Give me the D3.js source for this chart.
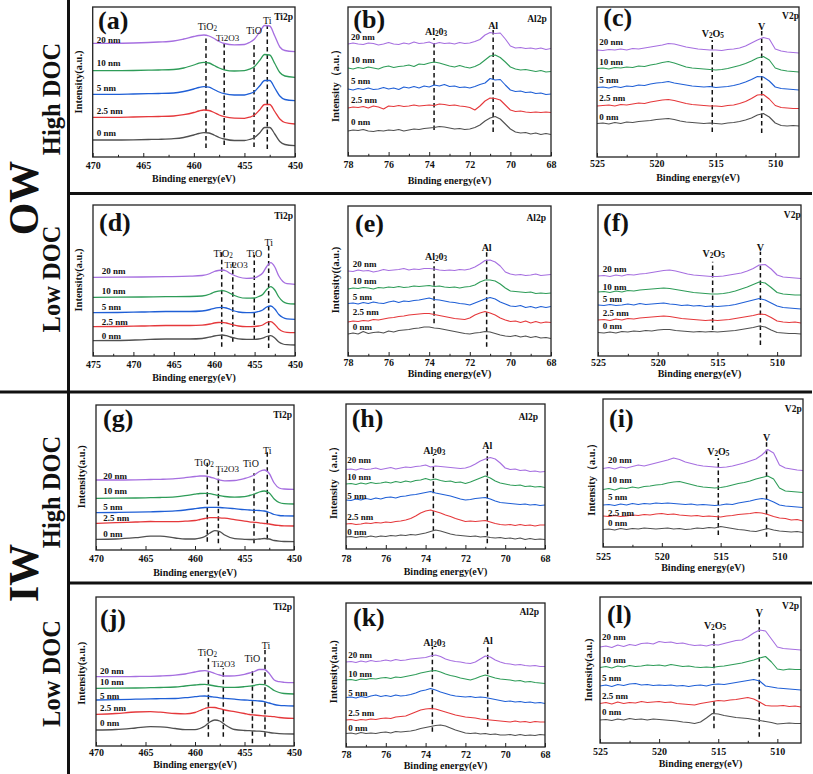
<!DOCTYPE html>
<html><head><meta charset="utf-8">
<script src="https://cdn.jsdelivr.net/npm/d3@7/dist/d3.min.js"></script>
<style>
body{margin:0;background:#fff}
svg{display:block}
text{font-family:"Liberation Serif","Times New Roman",serif}
</style></head>
<body><svg id="c" width="813" height="774"></svg>
<script>
// ---------------- data ----------------
const SERIES = ["0 nm","2.5 nm","5 nm","10 nm","20 nm"];
const COLORS = ["#505050","#e5383b","#1f5fd6","#2e9c58","#a66fe0"];

const X_TI   = [470,468,466,464.5,463.5,462,461,460,459.5,459,458.5,458,457.5,457,456,455,454.5,454,453.5,453,452.5,452,451.5,451,450];
const X_TI_D = [475,472,469,466,463,461.5,460.5,460,459.5,459,458.5,458,457.5,457,456,455,454.5,454,453.5,453,452.5,452,451.5,451,450];
const X_AL = [78,77.75,77.5,77.25,77,76.75,76.5,76.25,76,75.75,75.5,75.25,75,74.75,74.5,74.25,74,73.75,73.5,73.25,73,72.75,72.5,72.25,72,71.75,71.5,71.25,71,70.75,70.5,70.25,70,69.75,69.5,69.25,69,68.75,68.5,68.25,68];
const X_V = [525,524.5,524,523.5,523,522.5,522,521.5,521,520.5,520,519.5,519,518.5,518,517.5,517,516.5,516,515.5,515,514.5,514,513.5,513,512.5,512,511.5,511,510.5,510,509.5,509,508.5,508];

const TICKS_TI = [470,465,460,455,450], MINOR_TI = [467.5,462.5,457.5,452.5];
const TICKS_TI_D = [475,470,465,460,455,450], MINOR_TI_D = [472.5,467.5,462.5,457.5,452.5];
const TICKS_AL = [78,76,74,72,70,68], MINOR_AL = [77,75,73,71,69];
const TICKS_V = [525,520,515,510], MINOR_V = [522.5,517.5,512.5];

// (a) Ti2p, OW high DOC
const A0  = [17,17,17.2,17.5,17.7,18.3,19.5,22,23.5,24.3,24,22,19.5,18,16.5,16.5,17.5,19.5,24,29.5,29.5,23,15.5,12.5,11.3];
const A25 = [39.7,39.7,40,40.3,40.5,41,42.3,44.5,46,47,46.5,44.5,42,40.3,38.8,38.7,39.8,42,47,52.5,52.5,45.5,38,34.5,33];
const A5  = [62.7,62.7,63,63.3,63.5,64,65.5,68,69.5,70.3,69.8,67.5,65,63.3,62,62,63.3,65.5,71,76.5,76.5,69,61,57.5,56.3];
const A10 = [86.3,86.3,86.5,86.8,87,87.5,89,92,93.8,94.7,94,91.5,89,87.2,86,86.3,87.8,90.5,96.5,102.5,102,93.5,84.5,81,79.7];
const A20 = [113.7,113.7,114,114.5,115,116,118,120.5,121.5,122,121,118.5,115.5,113.5,112.2,112.5,114.5,118,125,131.5,131,121,110,106.5,105.3];
// (b) Al2p
const B0  = [25,26,25.5,26.5,25,24.5,25.5,25,26,25.5,26.5,25,26,27,26.5,27.5,28,28.5,29.5,29,28,27,27.5,26.5,27,28.5,31,35,38,39.5,37,32,27,24,23,23.5,22,23,21.5,22.5,21.5];
const B25 = [48,49,48.5,49.5,48,50,49,47,50,49.5,50.5,49.5,50,51,50,50.5,51,50.5,52,51.5,50.5,51,50,49.5,48.5,46,50,55,58,57.5,56,51,46,44.5,45,44,43.5,44,43.5,44,43.5];
const B5  = [67,66,67.5,66.5,68,66.5,67,68.5,67,68,66.5,69,68,69.5,68,70,69,71,70,71.5,69.5,70,68.5,69,68,69.5,71.5,73,77.5,76,76.5,71,66,64.5,65,63.5,64,62.5,63,61.5,62];
const B10 = [88,87,88.5,87.5,89,88,87,89,90,88.5,89.5,90,91,89.5,92,91.5,93,94,93,91.5,90,89,90.5,89,88,89.5,92,96,100,101,98.5,94,89,87,86,86.5,85.5,84.5,85.5,84,84.5];
const B20 = [112,113,112,111.5,113,112.5,111,112,113.5,112,111.5,113,112,114,112.5,113,114,112,113.5,112.5,113,112,113.5,112.5,113,114.5,116.5,121,123.5,122.5,123,117,110,108,108.5,107.5,108,107,108,106.5,107.5];
// (c) V2p
const C0  = [33.5,34,33,34.5,33.5,35,34.5,35.5,36,36.5,37.5,38,38.5,37.5,36,35,34.5,34,33.5,34,33.5,33,34,34.5,35.5,37,39,42,43.5,40,34,31.5,31,31.5,31];
const C25 = [51,51.5,52,51,52.5,52,53,54,53.5,55,56,57,57.5,56.5,55,53.5,52.5,52,51.5,51,51,50.5,51.5,52,53.5,55.5,58.5,62,62.5,58,51.5,49.5,49,48.5,48.5];
const C5  = [69.5,70,69,70.5,69.5,71,70.5,72,71.5,73,74,74.5,75.5,74,73,72,71,70.5,70,70.5,69.5,70,70.5,71.5,73,75,77.5,80.5,80,76,70,68.5,68,67.5,67];
const C10 = [88.5,89,88,89.5,89,90,89.5,91,90.5,92,93,94.5,95.5,94,92,90,89,88.5,88,87.5,87,87.5,88.5,90,91.5,93.5,96,99,100.5,97,89,87,86,85.5,85];
const C20 = [107,106.5,107.5,107,108,107,108.5,108,109,110,111,112,113.5,113,111.5,110,109,108,107.5,107,107,106.5,107.5,108,109,111,114,117,119.5,118,108,106,105,104.5,104];
// (d) Ti2p, OW low DOC
const D0  = [15.3,15.5,16.2,17,17,17.5,19,20,20.7,21,20.3,19,18,17.2,16.7,16.7,17,17.8,19.5,20.3,18,14,12,11.3,11];
const D25 = [29.3,29.5,30,30.5,30.5,30.8,32,33,33.5,33.7,33,31.8,30.8,30,29.3,29.5,30,31,33.5,34.3,31.5,27,24.5,23.7,23.3];
const D5  = [43.3,43.5,44,44.5,44.5,45,46.5,47.7,48.4,48.7,48,46.5,45,44,43.3,43.5,44.5,46,49,50,47,41.5,38.5,37.2,36.7];
const D10 = [58.7,58.8,59,59.3,59.5,60,62,63.8,64.8,65.3,64.5,62.5,60.5,59,57.8,58,59.5,61.5,66.5,69.3,66,59,54.5,52.7,52];
const D20 = [78.7,78.8,79,79.3,79.8,80.5,82.5,84.5,85.5,86,85,82.5,80.5,79,77.7,78.2,80,83,89.5,93.3,89,80,74.5,72.3,71.7];
// (e) Al2p
const E0  = [22,23,22,24.5,22.5,23.5,24,23,25,24,25.5,26,26.5,27.5,28,29,29,28,27.5,26.5,25.5,24.5,23.5,22.5,22,23,23.5,24.5,24,22.5,21,20,19.5,20.5,19,20,18.5,19.5,18,18.5,17.5];
const E25 = [34,35,34.5,35.5,35,36.5,36,37,38,38.5,39.5,40,41,41.5,42,42.5,42.5,41.5,40.5,39.5,38.5,37.5,37,36.5,38,41,43,44.5,43,41,38,36,34.5,35,33.5,35,33,34.5,33,34,33.5];
const E5  = [52.5,53,52,53.5,52.5,54,53,52.5,54,55,53.5,55,54.5,55.5,56,57,58,56.5,56,55,54,53.5,52.5,52,51,53,55,57,58.5,57,54,52,50,49.5,50.5,48.5,49.5,48,49.5,48.5,49.5];
const E10 = [67,68,67.5,68.5,68,67,68.5,68,69,68.5,69.5,68.5,69,70,69.5,70,70.5,69.5,70,69,68.5,69,68,69,69.5,71,74,76,76,75,72,68,65,64.5,64,63.5,64,62.5,63,62.5,63];
const E20 = [85,84.5,86,85,85.5,84,85,86.5,85.5,86,86.5,87.5,86,87,86.5,87.5,87.5,87,86,85.5,86,85.5,86.5,86,87,89,92,95.5,96,94,90,84,82,81,81.5,80.5,81,82,80.5,81,81.5];
// (f) V2p
const F0  = [23.5,23,24,23,24.5,24,25,24.5,25.5,25,26,26.5,26.5,25.5,25,24.5,24,24.5,24,24.5,24,24.5,25,25.5,26.5,27.5,28.5,30,29,26,23.5,23,22.5,22.5,22];
const F25 = [36,36.5,35.5,37,36,37.5,37,38,38.5,39,39.5,40,39.5,38.5,37.5,37,36.5,36,35.5,36,35.5,36,36.5,37.5,38.5,39.5,40.5,42,41.5,38.5,35,34,33.5,34,33];
const F5  = [51,50.5,51.5,50.5,51,52,51,52.5,51.5,52,52.5,53,52,51.5,50.5,51,50,50.5,49.5,50,49.5,50,50.5,51.5,53,54.5,56,57.5,56,53,50,48.5,48,47.5,47];
const F10 = [64,64.5,63.5,65,64,65.5,65,66,66.5,67,67.5,68,67.5,66.5,65.5,64.5,63.5,63,62.5,62,62,62.5,63.5,65,67,69,71.5,74,73,68.5,63.5,62,61.5,61,61];
const F20 = [80,80.5,79.5,81,80,81.5,81,82,82.5,83.5,84.5,85.5,86,85,83.5,82,81,80.5,80,79.5,79.5,80,81,82,83,85,87.5,91,91.5,87,81,79,78.5,78,77.5];
// (g) Ti2p, IW high DOC
const G0  = [10.7,11,12.3,13.8,13.8,12,11,11,11.8,13.5,17,19.3,18.3,15,11.3,10.7,10.5,10.5,11,11.5,11,9.5,8.8,8.5,8.3];
const G25 = [26.7,27.3,28,28.5,28.3,28.3,28.8,29.5,30.5,31.5,32.3,32.3,32.2,31.8,30.3,28.8,28.2,27.7,27.2,26.5,26,25,24.5,24.2,24];
const G5  = [37.3,37.5,37.8,38.2,38.5,39.2,40,41.3,42,42.5,42.7,42.7,42.5,42.2,41.3,40.3,40,39.7,39.5,39,37.5,35.5,34.5,34.2,34];
const G10 = [51.7,51.8,52,52.3,52.5,53.2,54.3,55.8,56.5,56.7,56.3,55.3,54.3,53.5,52.8,53.3,54.5,56,58,59,57,51,47.5,46.3,46];
const G20 = [70,70,70.2,70.5,70.7,71.3,72.3,73.5,74,74,73,71.5,70,69.2,69.5,71.5,73,75,78.5,80,76.5,67,62,61,60.7];
// (h) Al2p
const H0  = [12,12.5,11.5,12.5,12,13,12,13,12.5,13.5,13,14,13.5,14.5,14,15,16,17.5,19,18,16.5,15,14,13.5,13,12.5,13,12,12.5,11.5,11,11.5,10.5,11,10,11,9.5,10.5,9.5,10,9.5];
const H25 = [25,25.5,24.5,25,26,25.5,26.5,26,27,26.5,27.5,28,29,30.5,33,36,38,39,37.5,36,34,32.5,30.5,29,27.5,28,27.5,28,28.5,27,25.5,24.5,24,24.5,23.5,24.5,23.5,24,23,24,24];
const H5  = [49,48.5,50,49,50.5,49.5,51,50,51.5,52,51,52.5,53,54,54.5,55.5,56.5,57.5,56,55,54,53,51.5,50,49,49.5,50.5,51,51.5,50,48,46.5,46,45.5,45,44.5,45,44,44.5,43.5,44];
const H10 = [65,65.5,64.5,66,65,66.5,65.5,66,67,66,67.5,66.5,68,67,68.5,69,70.5,69,70,68.5,67.5,68,66.5,67,65.5,67,69,71,73,71,68,66,65,64,63.5,64,62.5,63,62,62.5,61.5];
const H20 = [79.5,80,79,80.5,79.5,80,81,79.5,80.5,81.5,80,81,82,81.5,82.5,83,84,82,83,82.5,82,81.5,81,80.5,81,82.5,85,88,90,91.5,90,86,81,79.5,80,78.5,79,77.5,78,77,77.5];
// (i) V2p
const I0  = [17.5,18,17,18.5,17.5,18.5,18,19,18.5,18,18.5,19,18,18.5,17.5,18,19,18.5,19.5,19,20.5,19.5,18.5,17.5,17,16,15.5,17,18.5,17,16,15.5,15,15.5,14.5];
const I25 = [31,30.5,31.5,30.5,31,32,31.5,32.5,32,33,33.5,32.5,33,32,31.5,31,31.5,30.5,31,30.5,30,31,31.5,32.5,33,33.5,34.5,34,32.5,30.5,29,28.5,27,27.5,26];
const I5  = [42,42.5,41.5,43,42,43.5,42.5,43.5,43,44,43.5,44,43.5,43,42.5,43,42,42.5,42,41.5,42,43,42.5,44,45,46,47.5,48.5,47.5,45,42,41,40.5,40,39.5];
const I10 = [57.5,58.5,57,59,58.5,60,59,60.5,61,62,62.5,64,65,65.5,64,62.5,61,60,59.5,59,59.5,60.5,62,63.5,64.5,66,68,69.5,71,68,59,56,55.5,55,54.5];
const I20 = [78.5,79.5,78,80,79,80.5,82,81,82.5,84,85.5,87,89,87.5,85,83.5,82,81,80.5,80,79.5,80,81,82.5,84,86,88,92,97.5,94,82,79,78,77,76.5];
// (j) Ti2p, IW low DOC
const J0  = [16,16.5,18,19.3,19.2,17.5,16.3,16.3,17.5,20,24,26,25,21.5,16.5,15.5,15.3,15,14.8,14.3,13.5,12.8,12.3,12.1,12];
const J25 = [31.7,32.5,34,34.3,33.8,32.5,32.2,33.5,35.5,37.5,38.7,38.5,37.3,36,34.3,32.5,31.5,31,30.5,30,29.7,29.3,28.5,28,27.7];
const J5  = [46,46.3,46.8,47.2,47.3,47.5,48.3,49.3,49.8,50,49.5,48.8,48.2,47.7,46.8,46,45.7,45.4,45,44.3,43,41.5,40.7,40.3,40];
const J10 = [57.7,57.8,58,58.3,58.5,59,60,61,61.5,61.7,61,60,59.3,58.7,58.7,59.3,59.8,60.5,61.7,61.3,59,55.5,53.5,52.5,52];
const J20 = [69.3,69.3,69.5,69.7,70,70.8,72,74,75,75.3,74.3,72.5,71,70,70.2,71.7,73,74.5,76.5,76.5,72.5,66,64.3,63.7,63.3];
// (k) Al2p
const K0  = [13.5,14,13,14.5,13.5,14,13.5,14.5,15,14,15.5,15,15.5,16,17,18.5,19.5,20.5,21.5,22,21,19,17,15.5,14,13.5,14,13,13.5,12.5,13,12,12,12.5,11.5,12.5,11.5,12,11.5,12.5,12];
const K25 = [27,27.5,26.5,27.5,27,28,27.5,28.5,29,28.5,30,30.5,31,33,35,37,38,38.5,38,36.5,35,33.5,32,31,30,29.5,29,28,27.5,27,26.5,26,25.5,25,26,25,25.5,24.5,25.5,25,25];
const K5  = [49.5,50,49,50.5,49.5,51,52,50.5,51.5,50.5,52,51,51.5,52.5,54,56,57,58.5,57,55,53.5,52,51,50.5,50,50.5,49.5,50,49.5,48.5,47.5,46.5,45.5,46,45,45.5,44.5,45,44,44.5,43.5];
const K10 = [67,67.5,66.5,68,67.5,68.5,68,69,69.5,68.5,70,69.5,70.5,71.5,72.5,74,75,76,76.5,75,73,71.5,70.5,69,68,67,68.5,70.5,72,70.5,69,68,67.5,67,66,66.5,65,65.5,64.5,64,63.5];
const K20 = [85,85.5,84.5,86,85,86.5,85.5,86,87,86,87.5,86.5,87,88,88.5,89,89.5,91,92,90.5,88,86.5,85.5,85,84,83.5,85,88,91,90,87,85,83.5,83,82,82.5,81.5,81,81.5,80.5,80.5];
// (l) V2p
const L0  = [23,23.5,22.5,24,23,24.5,23.5,24,23,24,23.5,23,22.5,22,21,20.5,19.5,21,25,29.5,29,27.5,26.5,25.5,25,24.5,23.5,22.5,21.5,20.5,19,19.5,20,19.5,19.5];
const L25 = [39.5,40.5,39,41,39.5,40.5,40,41.5,40.5,41,41.5,40.5,41,39.5,39,38.5,38,39.5,40.5,41.5,42.5,42,43,43.5,44.5,45.5,44,41,37.5,37,37,37.5,36.5,37,36];
const L5  = [57,58,56.5,58.5,57.5,59,59.5,58,58.5,57.5,58,57.5,58,57,57.5,56.5,57.5,58,57,58.5,59,58.5,59.5,60.5,61.5,62.5,63.5,62,57,56,55,54.5,54,53.5,53];
const L10 = [75.5,76.5,75,77,76,77.5,76.5,77,78,77.5,78,77,78.5,77.5,76.5,77,76,75.5,76,75.5,76.5,77,78,79,80,81.5,83,85,86.5,81,74,73,74,73.5,73.5];
const L20 = [96,97,95.5,98,96.5,98.5,97.5,99.5,100,99,101.5,100.5,101,99.5,100,98.5,97.5,98,97,98.5,98,99.5,101,102.5,103,106,110,113,112,104,96,94.5,94,93.5,93];

// marker label pieces: [text, isSubscript]
const LBL = {
  TiO2: [["TiO",0],["2",1]], Ti2O3: [["Ti2O3",0]], TiO: [["TiO",0]], Ti: [["Ti",0]],
  Al2O3: [["Al",0],["2",1],["0",0],["3",1]], Al: [["Al",0]],
  V2O5: [["V",0],["2",1],["O",0],["5",1]], V: [["V",0]]
};
const YT1 = "Intensity(a.u.)", YT2 = "Intensity\uFF08a.u.\uFF09", YT3 = "Intensity((a.u.)";

// ---------------- layout ----------------
const PANELS = [
 {L:"(a)", el:"Ti2p", box:[92.7,7,295,157], dom:[470,450], tk:TICKS_TI, mn:MINOR_TI, xs:X_TI, ys:[A0,A25,A5,A10,A20], smooth:true,
  let:[98,28.5], elp:[293,17], yt:[YT1,78,82], tkDy:8.7, tiDy:21, labX:96.7, labV:[24,46,69,94,117],
  mk:[{e:458.8,r:[9,122],t:"TiO2",ty:131,dx:1.5},{e:457.0,r:[12,115],t:"Ti2O3",ty:119.5,dx:3.5},{e:454.05,r:[10,114],t:"TiO",ty:127,dx:0},{e:452.74,r:[8,132],t:"Ti",ty:137,dx:0}]},
 {L:"(b)", el:"Al2p", box:[348,7,551,156], dom:[78,68], tk:TICKS_AL, mn:MINOR_AL, xs:X_AL, ys:[B0,B25,B5,B10,B20], smooth:false,
  let:[353.3,27.5], elp:[546.7,19], yt:[YT2,335,83], tkDy:8.3, tiDy:24, labX:351, labV:[34.3,56,75,96,118.7],
  mk:[{e:73.76,r:[26,118],t:"Al2O3",ty:125,dx:2},{e:70.85,r:[24,128],t:"Al",ty:131,dx:0}]},
 {L:"(c)", el:"V2p", box:[597,7,799,157], dom:[525,508], tk:TICKS_V, mn:MINOR_V, xs:X_V, ys:[C0,C25,C5,C10,C20], smooth:false,
  let:[603.3,25.5], elp:[799,16], yt:null, tkDy:6.3, tiDy:20, labX:599.3, labV:[40.3,58.7,77,95.3,114.7],
  mk:[{e:515.3,r:[25,117],t:"V2O5",ty:124,dx:0.5},{e:511.14,r:[24,129],t:"V",ty:131,dx:0}]},
 {L:"(d)", el:"Ti2p", box:[93,205,295,356], dom:[475,450], tk:TICKS_TI_D, mn:MINOR_TI_D, xs:X_TI_D, ys:[D0,D25,D5,D10,D20], smooth:true,
  let:[99,230.5], elp:[293,216], yt:[YT1,78.3,280], tkDy:8.3, tiDy:21, labX:101.7, labV:[20.3,34.3,48.7,65,85],
  mk:[{e:459.07,r:[9.3,106],t:"TiO2",ty:103,dx:1.5},{e:457.7,r:[14.3,94.3],t:"Ti2O3",ty:91,dx:3.3},{e:455.04,r:[16,101],t:"TiO",ty:103.3,dx:0},{e:453.26,r:[8,111],t:"Ti",ty:114.3,dx:0}]},
 {L:"(e)", el:"Al2p", box:[348,206,551,356], dom:[78,68], tk:TICKS_AL, mn:MINOR_AL, xs:X_AL, ys:[E0,E25,E5,E10,E20], smooth:false,
  let:[355,232], elp:[546,218], yt:[YT3,335,280], tkDy:6.5, tiDy:17.5, labX:352.7, labV:[29.3,44.3,59.3,75,92],
  mk:[{e:73.76,r:[32.7,94.3],t:"Al2O3",ty:100,dx:2},{e:71.17,r:[9.3,106],t:"Al",ty:109.3,dx:0}]},
 {L:"(f)", el:"V2p", box:[598,205,801,356], dom:[525,508], tk:TICKS_V, mn:MINOR_V, xs:X_V, ys:[F0,F25,F5,F10,F20], smooth:false,
  let:[603,230.5], elp:[800.7,215], yt:null, tkDy:6, tiDy:17.5, labX:602.7, labV:[30,42.7,56.7,69.3,87],
  mk:[{e:515.4,r:[26,94.3],t:"V2O5",ty:103,dx:1},{e:511.4,r:[11,104.3],t:"V",ty:109.3,dx:0}]},
 {L:"(g)", el:"Ti2p", box:[96,405,294,550], dom:[470,450], tk:TICKS_TI, mn:MINOR_TI, xs:X_TI, ys:[G0,G25,G5,G10,G20], smooth:true,
  let:[103,427], elp:[292,415], yt:[YT1,81.7,476.7], tkDy:8, tiDy:22, labX:103.3, labV:[16,31.7,43.3,59,74.3],
  mk:[{e:458.76,r:[8.3,87.3],t:"TiO2",ty:88.3,dx:-3},{e:457.64,r:[6.7,81.7],t:"Ti2O3",ty:80.7,dx:9},{e:454.04,r:[6.7,76.7],t:"TiO",ty:86.7,dx:-3},{e:452.7,r:[10.7,98.3],t:"Ti",ty:100,dx:0}]},
 {L:"(h)", el:"Al2p", box:[346,404,545,549], dom:[78,68], tk:TICKS_AL, mn:MINOR_AL, xs:X_AL, ys:[H0,H25,H5,H10,H20], smooth:false,
  let:[351.7,427], elp:[538,416.7], yt:[YT2,333.3,480], tkDy:9.3, tiDy:22, labX:347.3, labV:[16.7,32.3,53,71.7,89],
  mk:[{e:73.61,r:[10.7,94],t:"Al2O3",ty:99,dx:1},{e:70.9,r:[5.7,99],t:"Al",ty:104,dx:0}]},
 {L:"(i)", el:"V2p", box:[603,399,803,547], dom:[525,508], tk:TICKS_V, mn:MINOR_V, xs:X_V, ys:[I0,I25,I5,I10,I20], smooth:false,
  let:[609,427], elp:[801.7,409.3], yt:[YT2,591.7,476.7], tkDy:9.5, tiDy:20.5, labX:608, labV:[23.7,34.3,49.7,67,87],
  mk:[{e:515.2,r:[12,88.7],t:"V2O5",ty:96,dx:0},{e:511.1,r:[10.3,107],t:"V",ty:109.7,dx:0}]},
 {L:"(j)", el:"Ti2p", box:[96,597,294,746], dom:[470,450], tk:TICKS_TI, mn:MINOR_TI, xs:X_TI, ys:[J0,J25,J5,J10,J20], smooth:true,
  let:[100,627], elp:[292,606.7], yt:[YT1,81.7,673.3], tkDy:6.5, tiDy:18, labX:100, labV:[22.7,37.7,50,64.3,75.3],
  mk:[{e:458.65,r:[9.3,87.7],t:"TiO2",ty:94.3,dx:-1},{e:457.14,r:[9.3,77.7],t:"Ti2O3",ty:82,dx:0},{e:454.2,r:[2.7,76],t:"TiO",ty:87.7,dx:0},{e:452.93,r:[9.3,96],t:"Ti",ty:101,dx:1}]},
 {L:"(k)", el:"Al2p", box:[346,603,545,747], dom:[78,68], tk:TICKS_AL, mn:MINOR_AL, xs:X_AL, ys:[K0,K25,K5,K10,K20], smooth:false,
  let:[353,625.5], elp:[539,612.3], yt:[YT1,333.3,671.7], tkDy:7, tiDy:18.5, labX:348.3, labV:[18.7,34.3,54.3,73,92],
  mk:[{e:73.66,r:[15.3,100.3],t:"Al2O3",ty:105.3,dx:2},{e:70.88,r:[20.3,102],t:"Al",ty:107,dx:0}]},
 {L:"(l)", el:"V2p", box:[600,597,801,743], dom:[525,508], tk:TICKS_V, mn:MINOR_V, xs:X_V, ys:[L0,L25,L5,L10,L20], smooth:false,
  let:[607,622.5], elp:[799,606], yt:[YT1,588,670], tkDy:8.5, tiDy:20, labX:602, labV:[31.3,47,65.3,83,106.3],
  mk:[{e:515.36,r:[14.7,109.7],t:"V2O5",ty:118,dx:1},{e:511.53,r:[6.3,129.7],t:"V",ty:131.3,dx:0}]}
];

// ---------------- drawing ----------------
const svg = d3.select("#c");
const INK = "#111";

function richText(sel, parts, fs) {
  let shifted = false;
  parts.forEach(([s, isSub]) => {
    const t = sel.append("tspan").text(s);
    if (isSub && !shifted) { t.attr("dy", fs * 0.32).attr("font-size", fs * 0.72); shifted = true; }
    else if (isSub) { t.attr("font-size", fs * 0.72); }
    else if (shifted) { t.attr("dy", -fs * 0.32); shifted = false; }
  });
}

PANELS.forEach((p, pi) => {
  const [x0, y0, x1, y1] = p.box;
  const x = d3.scaleLinear().domain(p.dom).range([x0, x1]);
  const y = d3.scaleLinear().domain([0, y1 - y0]).range([y1, y0]);
  const g = svg.append("g");
  const cid = "clip" + pi;
  g.append("clipPath").attr("id", cid).append("rect")
    .attr("x", x0).attr("y", y0).attr("width", x1 - x0).attr("height", y1 - y0);

  const line = d3.line()
    .defined((d, i) => d != null && p.xs[i] != null)
    .x((d, i) => x(p.xs[i])).y(d => y(d))
    .curve(p.smooth ? d3.curveMonotoneX : d3.curveLinear);

  const isTi = p.el === "Ti2p";

  // dashed markers
  p.mk.forEach(m => {
    g.append("line").attr("x1", x(m.e)).attr("x2", x(m.e))
      .attr("y1", y(m.r[0])).attr("y2", y(m.r[1]))
      .attr("stroke", INK).attr("stroke-width", 1.5).attr("stroke-dasharray", "4.5,3");
  });

  // curves
  p.ys.forEach((arr, si) => {
    g.append("path").datum(arr).attr("clip-path", `url(#${cid})`)
      .attr("d", line).attr("fill", "none")
      .attr("stroke", COLORS[si]).attr("stroke-width", p.smooth ? 1.3 : 1.1)
      .attr("stroke-linejoin", "round");
  });

  // frame
  g.append("rect").attr("x", x0).attr("y", y0).attr("width", x1 - x0).attr("height", y1 - y0)
    .attr("fill", "none").attr("stroke", "#222").attr("stroke-width", 1.3);

  // axis
  const ax = g.append("g").attr("transform", `translate(0,${y1})`)
    .call(d3.axisBottom(x).tickValues(p.tk).tickSizeInner(-4).tickSizeOuter(0)
      .tickPadding(p.tkDy - 3.5).tickFormat(d3.format("d")));
  ax.select(".domain").remove();
  ax.selectAll("line").attr("stroke", "#222").attr("stroke-width", 1);
  ax.selectAll("text").attr("font-family", "Liberation Serif").attr("font-weight", "bold")
    .attr("font-size", 10).attr("fill", INK);
  const axm = g.append("g").attr("transform", `translate(0,${y1})`)
    .call(d3.axisBottom(x).tickValues(p.mn).tickSizeInner(-2.2).tickSizeOuter(0).tickFormat(""));
  axm.select(".domain").remove();
  axm.selectAll("line").attr("stroke", "#222").attr("stroke-width", 1);

  // axis title
  g.append("text").attr("x", (x0 + x1) / 2).attr("y", y1 + p.tiDy)
    .attr("text-anchor", "middle").attr("dominant-baseline", "central")
    .attr("font-weight", "bold").attr("font-size", 10).attr("fill", INK)
    .text("Binding energy(eV)");

  // y title
  if (p.yt) {
    g.append("text").attr("transform", `translate(${p.yt[1]},${p.yt[2]}) rotate(-90)`)
      .attr("text-anchor", "middle").attr("dominant-baseline", "central")
      .attr("font-weight", "bold").attr("font-size", 10.5).attr("fill", INK)
      .text(p.yt[0]);
  }

  // panel letter (alphabetic baseline)
  g.append("text").attr("x", p.let[0]).attr("y", p.let[1])
    .attr("font-weight", "bold").attr("font-size", 26).attr("fill", INK).text(p.L);

  // element label
  g.append("text").attr("x", p.elp[0]).attr("y", p.elp[1])
    .attr("text-anchor", "end").attr("dominant-baseline", "central")
    .attr("font-weight", "bold").attr("font-size", 9.5).attr("fill", INK).text(p.el);

  // series labels
  SERIES.forEach((s, si) => {
    g.append("text").attr("x", p.labX).attr("y", y(p.labV[si]))
      .attr("dominant-baseline", "central").attr("font-weight", "bold")
      .attr("font-size", 9).attr("fill", INK).text(s);
  });

  // marker labels
  p.mk.forEach(m => {
    const fs = m.t === "Ti2O3" ? 9 : 10;
    const t = g.append("text").attr("x", x(m.e) + m.dx).attr("y", y(m.ty))
      .attr("text-anchor", "middle").attr("dominant-baseline", "central")
      .attr("font-weight", isTi ? "normal" : "bold").attr("font-size", fs).attr("fill", INK);
    richText(t, LBL[m.t], fs);
  });
});

// separators
const sep = svg.append("g").attr("stroke", "#111").attr("stroke-width", 3);
sep.append("line").attr("x1", 68.5).attr("x2", 68.5).attr("y1", 0).attr("y2", 774);
sep.append("line").attr("x1", 68.5).attr("x2", 812).attr("y1", 193.5).attr("y2", 193.5);
sep.append("line").attr("x1", 0).attr("x2", 812).attr("y1", 392).attr("y2", 392);
sep.append("line").attr("x1", 68.5).attr("x2", 812).attr("y1", 583).attr("y2", 583);

// left group labels (rotated; x is the alphabetic baseline)
const GROUPS = [["OW", 38, 198], ["IW", 38, 573]];
const ROWS = [["High DOC", 59.5, 99], ["Low DOC", 59.5, 279], ["High DOC", 59.5, 492], ["Low DOC", 59.5, 673.5]];
GROUPS.forEach(([t, gx, gy]) => {
  svg.append("text").attr("transform", `translate(${gx},${gy}) rotate(-90)`)
    .attr("text-anchor", "middle")
    .attr("font-weight", "bold").attr("font-size", 42).attr("fill", INK).text(t);
});
ROWS.forEach(([t, rx, ry]) => {
  svg.append("text").attr("transform", `translate(${rx},${ry}) rotate(-90)`)
    .attr("text-anchor", "middle")
    .attr("font-weight", "bold").attr("font-size", 24.5).attr("fill", INK).text(t);
});
</script>
</body></html>
